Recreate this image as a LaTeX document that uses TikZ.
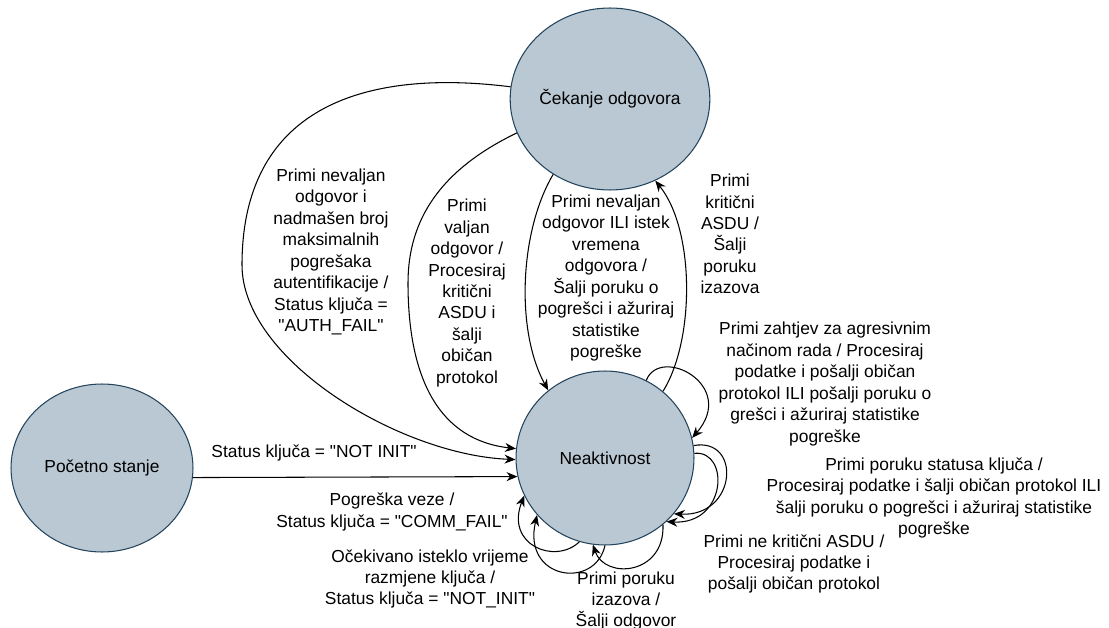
\documentclass[tikz,border=0pt]{standalone}
\usepackage{fontspec}
\setmainfont{Liberation Sans}
\usetikzlibrary{shapes.geometric,arrows.meta}
\definecolor{stateFill}{HTML}{BAC8D3}
\definecolor{stateLine}{HTML}{23445D}
\newcommand{\qd}{\textquotedbl}
\tikzset{
	stateNode/.style={ellipse,draw=stateLine,fill=stateFill,line width=0.6pt,inner sep=0pt},
	lbl/.style={align=center,inner sep=0pt},
	trans/.style={->,line width=0.6pt}
}
\begin{document}
\begin{tikzpicture}[x=0.02cm,y=-0.02cm,>={Stealth[length=2.2mm,width=1.8mm]},font=\fontsize{9.9}{12.2}\selectfont]
	\useasboundingbox (0,0) rectangle (1109,628);
		%states
			\node[stateNode,minimum width=3.64cm,minimum height=3.36cm] (poc) at (102,468) {Početno stanje};
			\node[stateNode,minimum width=3.72cm,minimum height=3.64cm] (cek) at (610,99) {Čekanje odgovora};
			\node[stateNode,minimum width=3.56cm,minimum height=3.48cm] (neak) at (605,458) {Neaktivnost};
		%transitions between states
			\draw[trans] (poc.-6) -- (neak.192);
			\draw[trans] (cek.173) .. controls (360,68) and (242,110) .. (242,265) .. controls (242,360) and (400,455) .. (neak.181);
			\draw[trans] (cek.200) .. controls (440,170) and (408,220) .. (408,283) .. controls (408,380) and (440,440) .. (neak.174);
			\draw[trans] (cek.233) .. controls (520,230) and (515,330) .. (neak.130);
			\draw[trans] (neak.49) .. controls (695,340) and (695,230) .. (cek.299);
		%self loops
			\draw[trans] (neak.62) .. controls (660,345) and (738,385) .. (neak.13);
			\draw[trans] (neak.8) .. controls (742,437) and (737,517) .. (neak.321);
			\draw[trans] (neak.3) .. controls (730,450) and (727,525) .. (neak.314);
			\draw[trans] (neak.253) .. controls (555,565) and (505,545) .. (neak.205);
			\draw[trans] (neak.270) .. controls (595,590) and (522,580) .. (neak.220);
			\draw[trans] (neak.311) .. controls (665,575) and (605,580) .. (neak.262);
		%labels
			\node[lbl] (lblInit) at (314,453) {Status ključa = \qd NOT INIT\qd};
			\node[lbl] (lblAuth) at (331,252) {Primi nevaljan\\odgovor i\\nadmašen broj\\maksimalnih\\pogrešaka\\autentifikacije /\\Status ključa =\\\qd AUTH\_FAIL\qd};
			\node[lbl] (lblValid) at (467,293) {Primi\\valjan\\odgovor /\\Procesiraj\\kritični\\ASDU i\\šalji\\običan\\protokol};
			\node[lbl] (lblInvalid) at (606,278) {Primi nevaljan\\odgovor ILI istek\\vremena\\odgovora /\\Šalji poruku o\\pogrešci i ažuriraj\\statistike\\pogreške};
			\node[lbl] (lblCrit) at (730,234) {Primi\\kritični\\ASDU /\\Šalji\\poruku\\izazova};
			\node[lbl] (lblAggr) at (825,384) {Primi zahtjev za agresivnim\\načinom rada / Procesiraj\\podatke i pošalji običan\\protokol ILI pošalji poruku o\\grešci i ažuriraj statistike\\pogreške};
			\node[lbl] (lblKeyStat) at (934,498) {Primi poruku statusa ključa /\\Procesiraj podatke i šalji običan protokol ILI\\šalji poruku o pogrešci i ažuriraj statistike\\pogreške};
			\node[lbl] (lblNonCrit) at (794,564) {Primi ne kritični ASDU /\\Procesiraj podatke i\\pošalji običan protokol};
			\node[lbl] (lblComm) at (392,512) {Pogreška veze /\\Status ključa = \qd COMM\_FAIL\qd};
			\node[lbl] (lblTimeout) at (430,579) {Očekivano isteklo vrijeme\\razmjene ključa /\\Status ključa = \qd NOT\_INIT\qd};
			\node[lbl] (lblChal) at (626,601) {Primi poruku\\izazova /\\Šalji odgovor};
\end{tikzpicture}
\end{document}
